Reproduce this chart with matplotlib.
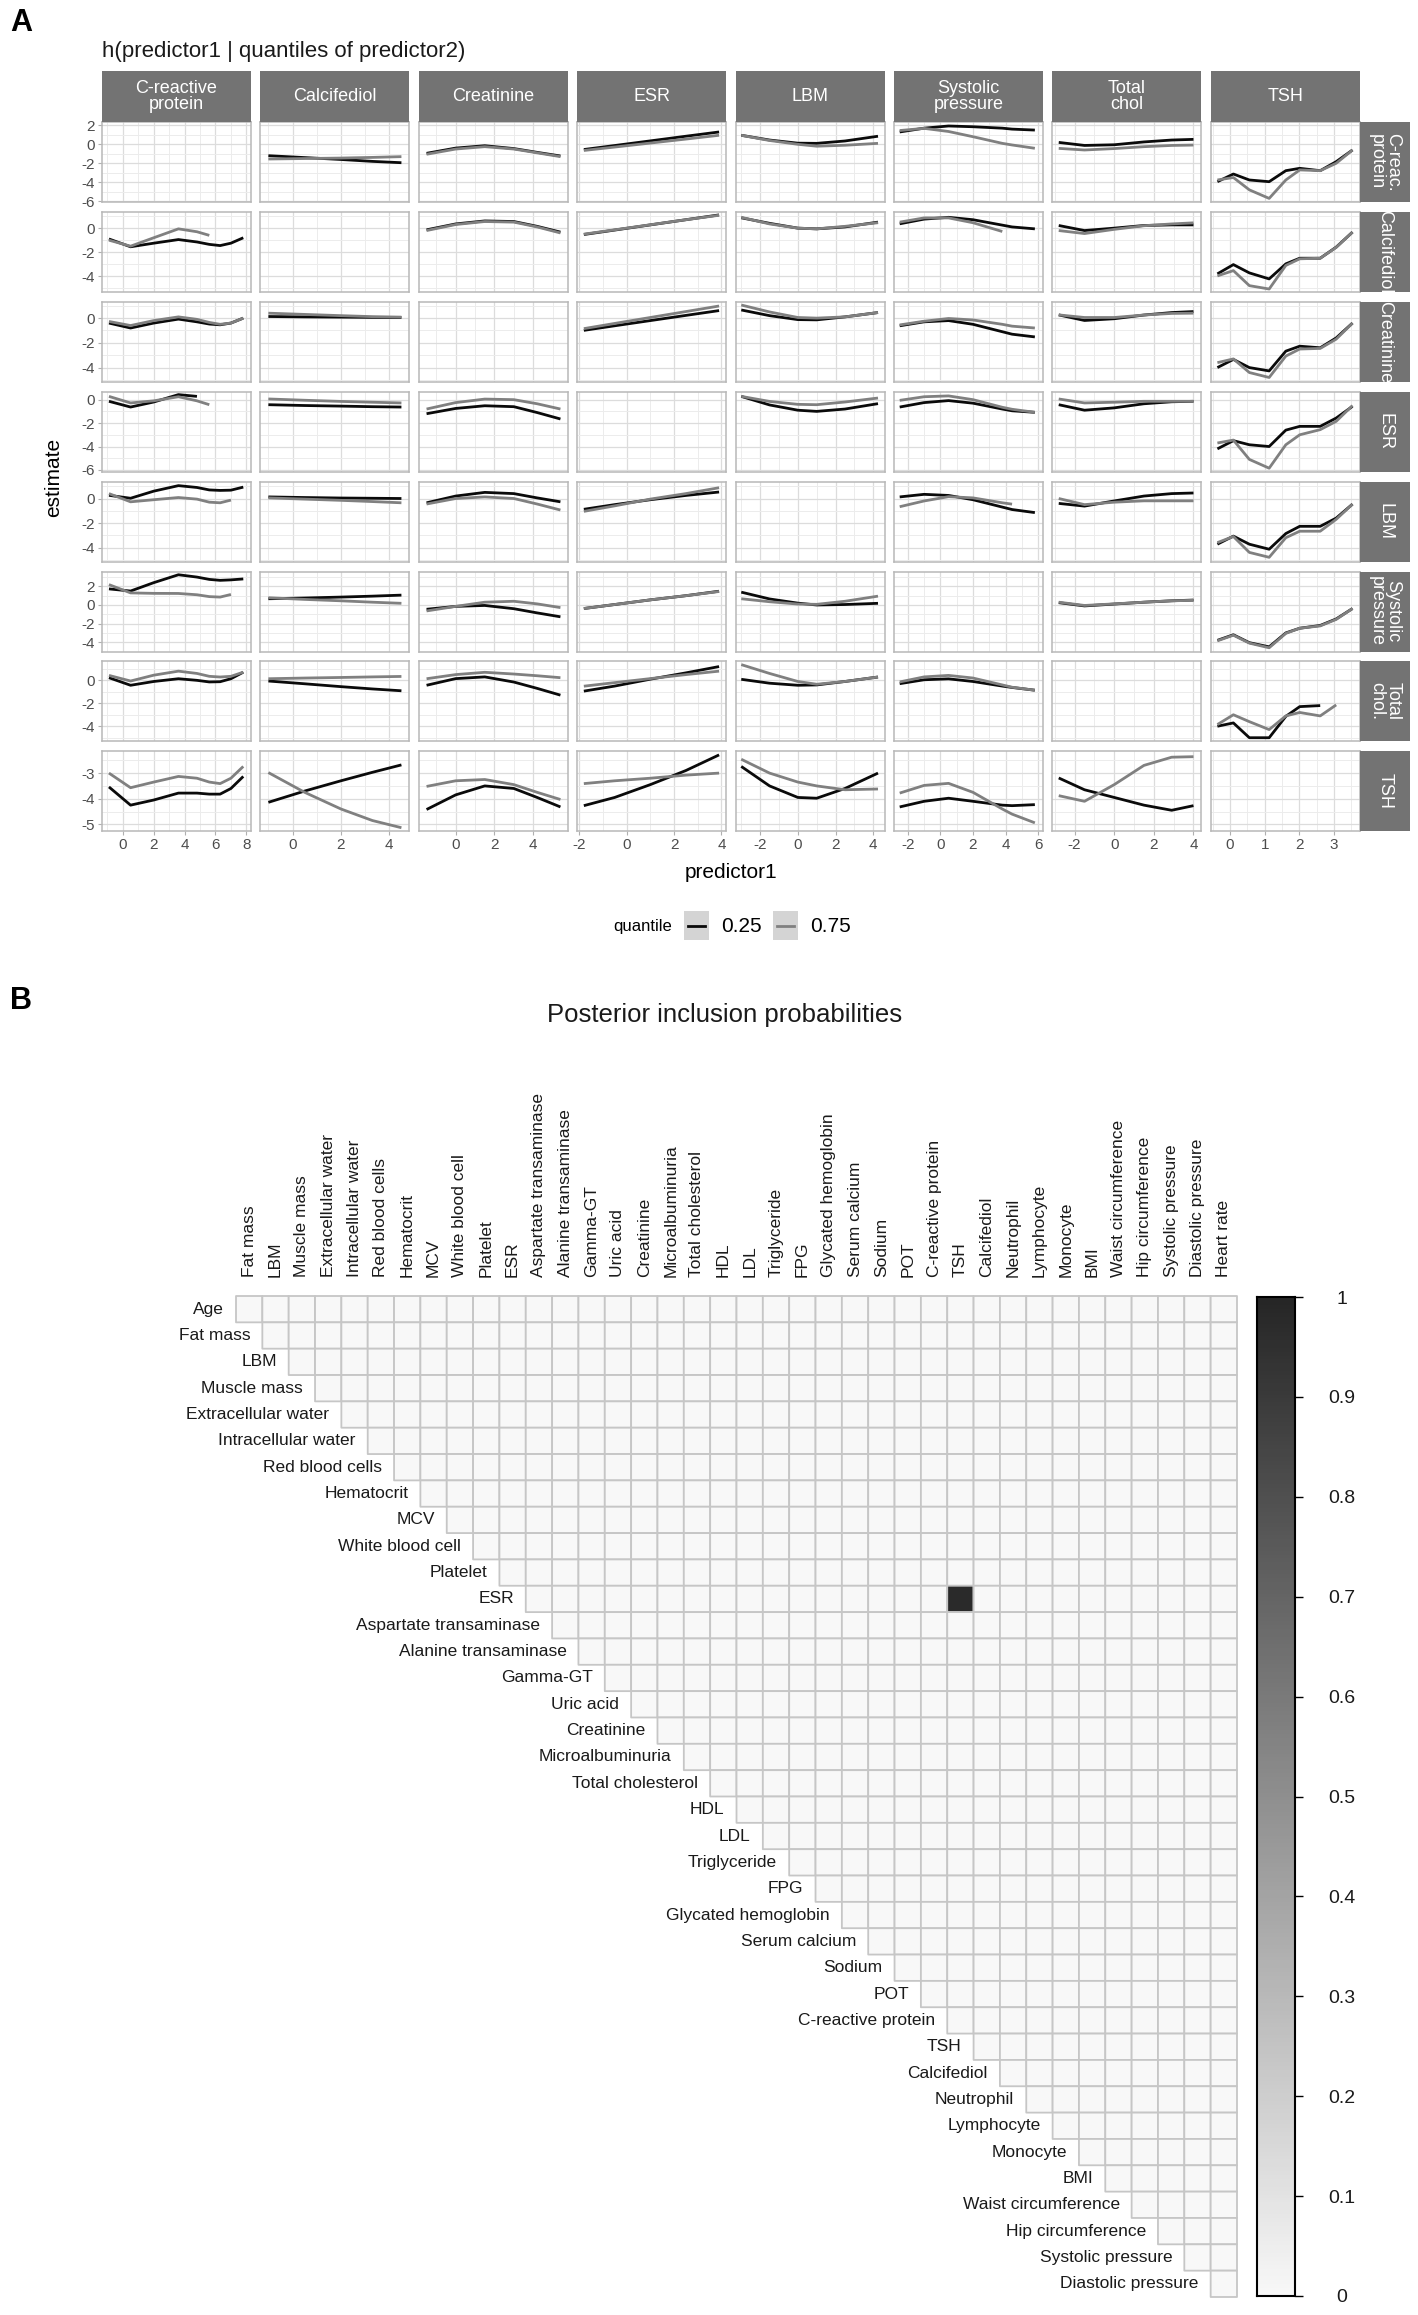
import numpy as np
import matplotlib
matplotlib.use("Agg")
import matplotlib.pyplot as plt
from matplotlib.colors import LinearSegmentedColormap
from matplotlib.patches import Rectangle
from matplotlib.lines import Line2D

nan = float("nan")

# ------------------------------------------------------------------
# Panel A data: h(predictor1 | quantiles of predictor2)
# ------------------------------------------------------------------
col_strip_labels = ["C-reactive\nprotein", "Calcifediol", "Creatinine", "ESR", "LBM",
                    "Systolic\npressure", "Total\nchol", "TSH"]
row_strip_labels = ["C-reac.\nprotein", "Calcifediol", "Creatinine", "ESR", "LBM",
                    "Systolic\npressure", "Total\nchol.", "TSH"]
quantiles = ["0.25", "0.75"]

# predictor1 grids (one per column)
x_crp = [-0.9, 0.5, 2.0, 3.6, 4.8, 5.6, 6.3, 7.0, 7.8]
x_calcifediol = [-1.0, 0.5, 2.0, 3.3, 4.5]
x_creatinine = [-1.5, 0.0, 1.5, 3.0, 4.2, 5.4]
x_esr = [-1.8, -0.5, 1.0, 2.5, 3.9]
x_lbm = [-3.0, -1.5, 0.0, 1.0, 2.5, 4.25]
x_systolic = [-2.5, -1.0, 0.5, 2.0, 3.8, 4.4, 5.8]
x_totchol = [-2.8, -1.5, 0.0, 1.5, 2.9, 4.0]
x_tsh = [-0.36, 0.1, 0.56, 1.13, 1.61, 2.01, 2.6, 3.06, 3.53]

# axis ticks per column / row
x_majors = [[0, 2, 4, 6, 8], [0, 2, 4], [0, 2, 4], [-2, 0, 2, 4], [-2, 0, 2, 4],
            [-2, 0, 2, 4, 6], [-2, 0, 2, 4], [0, 1, 2, 3]]
y_majors = [[-6, -4, -2, 0, 2], [-4, -2, 0], [-4, -2, 0], [-6, -4, -2, 0], [-4, -2, 0],
            [-4, -2, 0, 2], [-4, -2, 0], [-5, -4, -3]]

# rows = predictor2 (C-reactive protein row first); columns in same order
crp_q25 = [None,
           [-1.2, -1.4, -1.6, -1.8, -1.94],
           [-0.95, -0.4, -0.15, -0.45, -0.85, -1.23],
           [-0.55, -0.13, 0.36, 0.85, 1.3],
           [0.95, 0.45, 0.12, 0.1, 0.35, 0.85],
           [1.3, 1.7, 1.93, 1.85, 1.7, 1.6, 1.5],
           [0.2, -0.12, -0.05, 0.25, 0.45, 0.52],
           [-3.94, -3.13, -3.76, -3.94, -2.78, -2.53, -2.78, -1.83, -0.6]]
crp_q75 = [None,
           [-1.55, -1.5, -1.45, -1.38, -1.3],
           [-1.05, -0.5, -0.25, -0.5, -0.9, -1.3],
           [-0.65, -0.29, 0.13, 0.55, 0.95],
           [0.95, 0.4, 0.0, -0.2, -0.1, 0.1],
           [1.45, 1.68, 1.35, 0.8, 0.1, -0.07, -0.42],
           [-0.43, -0.6, -0.45, -0.25, -0.12, -0.08],
           [-3.76, -3.5, -4.8, -5.7, -3.76, -2.7, -2.78, -2.0, -0.6]]

calc_q25 = [[-0.9, -1.55, -1.25, -0.95, -1.15, -1.35, -1.45, -1.25, -0.8],
            None,
            [-0.14, 0.35, 0.6, 0.55, 0.15, -0.33],
            [-0.53, -0.16, 0.27, 0.7, 1.1],
            [0.86, 0.4, 0.0, -0.06, 0.1, 0.5],
            [0.36, 0.75, 0.9, 0.7, 0.25, 0.1, -0.06],
            [0.22, -0.2, 0.0, 0.22, 0.27, 0.27],
            [-3.8, -3.03, -3.72, -4.22, -2.97, -2.5, -2.5, -1.58, -0.33]]
calc_q75 = [[-1.0, -1.5, -0.8, -0.06, -0.3, -0.6, nan, nan, nan],
            None,
            [-0.2, 0.3, 0.55, 0.5, 0.1, -0.4],
            [-0.5, -0.14, 0.28, 0.7, 1.07],
            [0.9, 0.35, 0.0, -0.06, 0.15, 0.45],
            [0.5, 0.85, 0.85, 0.45, -0.28, nan, nan],
            [-0.2, -0.45, -0.1, 0.2, 0.35, 0.44],
            [-3.97, -3.53, -4.78, -5.06, -3.1, -2.55, -2.5, -1.6, -0.33]]

creat_q25 = [[-0.4, -0.8, -0.4, -0.08, -0.3, -0.48, -0.54, -0.4, 0.0],
             [0.13, 0.1, 0.08, 0.06, 0.05],
             None,
             [-0.99, -0.62, -0.2, 0.22, 0.61],
             [0.66, 0.2, -0.12, -0.14, 0.1, 0.45],
             [-0.62, -0.3, -0.2, -0.5, -1.1, -1.3, -1.52],
             [0.26, -0.19, -0.05, 0.25, 0.45, 0.53],
             [-4.0, -3.34, -4.0, -4.27, -2.67, -2.27, -2.4, -1.6, -0.4]]
creat_q75 = [[-0.27, -0.6, -0.2, 0.1, -0.1, -0.35, -0.5, -0.4, 0.0],
             [0.4, 0.3, 0.2, 0.12, 0.08],
             None,
             [-0.85, -0.43, 0.05, 0.53, 0.98],
             [1.06, 0.5, 0.05, 0.0, 0.1, 0.45],
             [-0.55, -0.25, -0.03, -0.15, -0.5, -0.65, -0.8],
             [0.26, 0.05, 0.05, 0.25, 0.38, 0.4],
             [-3.6, -3.3, -4.4, -4.8, -3.07, -2.5, -2.45, -1.7, -0.4]]

esr_q25 = [[-0.14, -0.63, -0.2, 0.43, 0.28, nan, nan, nan, nan],
           [-0.43, -0.5, -0.55, -0.6, -0.63],
           [-1.2, -0.75, -0.52, -0.6, -1.1, -1.65],
           None,
           [0.28, -0.45, -0.9, -1.0, -0.8, -0.34],
           [-0.63, -0.25, -0.08, -0.3, -0.8, -0.95, -1.08],
           [-0.43, -0.9, -0.7, -0.35, -0.18, -0.14],
           [-4.2, -3.5, -3.85, -4.0, -2.6, -2.28, -2.28, -1.57, -0.57]]
esr_q75 = [[0.28, -0.28, -0.1, 0.25, -0.1, -0.43, nan, nan, nan],
           [0.06, -0.05, -0.15, -0.22, -0.28],
           [-0.8, -0.25, 0.05, 0.0, -0.35, -0.8],
           None,
           [0.28, -0.15, -0.4, -0.43, -0.2, 0.14],
           [-0.06, 0.25, 0.32, 0.0, -0.65, -0.82, -1.08],
           [0.06, -0.28, -0.22, -0.14, -0.14, -0.14],
           [-3.7, -3.45, -5.1, -5.85, -3.85, -3.0, -2.56, -1.85, -0.5]]

lbm_q25 = [[0.26, 0.02, 0.6, 1.05, 0.9, 0.7, 0.66, 0.68, 0.93],
           [0.13, 0.08, 0.04, 0.02, 0.0],
           [-0.35, 0.2, 0.5, 0.4, 0.05, -0.27],
           [-0.88, -0.5, -0.1, 0.25, 0.53],
           None,
           [0.13, 0.34, 0.25, -0.1, -0.7, -0.9, -1.15],
           [-0.4, -0.62, -0.2, 0.2, 0.4, 0.45],
           [-3.73, -3.07, -3.73, -4.14, -2.86, -2.27, -2.27, -1.6, -0.46]]
lbm_q75 = [[0.4, -0.27, -0.1, 0.08, -0.05, -0.3, -0.35, -0.13, nan],
           [0.05, -0.05, -0.15, -0.25, -0.35],
           [-0.45, 0.0, 0.13, 0.0, -0.45, -0.94],
           [-1.05, -0.6, -0.05, 0.4, 0.88],
           None,
           [-0.67, -0.2, 0.15, 0.05, -0.35, -0.46, nan],
           [0.0, -0.5, -0.3, -0.19, -0.19, -0.19],
           [-3.6, -3.1, -4.4, -4.8, -3.2, -2.67, -2.67, -1.7, -0.46]]

sys_q25 = [[1.73, 1.5, 2.4, 3.25, 3.0, 2.75, 2.65, 2.7, 2.8],
           [0.67, 0.75, 0.85, 0.95, 1.06],
           [-0.46, -0.15, -0.05, -0.4, -0.85, -1.27],
           [-0.38, 0.05, 0.55, 1.0, 1.48],
           [1.38, 0.65, 0.2, 0.0, 0.05, 0.18],
           None,
           [0.25, -0.1, 0.1, 0.3, 0.45, 0.53],
           [-3.8, -3.2, -4.05, -4.5, -3.0, -2.5, -2.2, -1.5, -0.38]]
sys_q75 = [[2.19, 1.3, 1.25, 1.24, 1.1, 0.9, 0.85, 1.13, nan],
           [0.78, 0.6, 0.45, 0.3, 0.18],
           [-0.64, -0.15, 0.3, 0.4, 0.12, -0.28],
           [-0.38, 0.05, 0.55, 1.0, 1.45],
           [0.67, 0.35, 0.1, 0.07, 0.4, 0.95],
           None,
           [0.3, -0.05, 0.12, 0.3, 0.45, 0.5],
           [-3.85, -3.25, -4.1, -4.6, -3.05, -2.5, -2.25, -1.55, -0.38]]

tc_q25 = [[0.23, -0.43, -0.1, 0.14, 0.0, -0.14, -0.12, 0.14, 0.71],
          [-0.06, -0.3, -0.55, -0.75, -0.91],
          [-0.43, 0.15, 0.3, -0.15, -0.7, -1.29],
          [-0.94, -0.5, 0.1, 0.65, 1.2],
          [0.09, -0.25, -0.43, -0.4, -0.1, 0.29],
          [-0.29, 0.05, 0.13, -0.1, -0.5, -0.62, -0.86],
          None,
          [-4.0, -3.71, -5.0, -5.0, -3.14, -2.29, -2.2, nan, nan]]
tc_q75 = [[0.43, -0.06, 0.45, 0.8, 0.6, 0.35, 0.29, 0.35, 0.71],
          [0.14, 0.2, 0.25, 0.3, 0.34],
          [0.14, 0.5, 0.7, 0.55, 0.4, 0.23],
          [-0.51, -0.2, 0.15, 0.5, 0.8],
          [1.37, 0.6, -0.1, -0.34, -0.1, 0.29],
          [-0.14, 0.3, 0.43, 0.2, -0.4, -0.6, -0.86],
          None,
          [-3.85, -3.0, -3.6, -4.29, -3.1, -2.8, -3.1, -2.14, nan]]

tsh_q25 = [[-3.54, -4.25, -4.05, -3.78, -3.78, -3.82, -3.82, -3.6, -3.13],
           [-4.14, -3.7, -3.3, -2.97, -2.68],
           [-4.42, -3.85, -3.5, -3.6, -3.95, -4.32],
           [-4.27, -3.95, -3.45, -2.9, -2.29],
           [-2.74, -3.5, -3.95, -3.98, -3.6, -3.0],
           [-4.32, -4.1, -3.98, -4.1, -4.25, -4.27, -4.23],
           [-3.19, -3.65, -3.95, -4.25, -4.45, -4.27],
           None]
tsh_q75 = [[-3.0, -3.57, -3.35, -3.13, -3.2, -3.35, -3.41, -3.2, -2.74],
           [-2.98, -3.75, -4.4, -4.85, -5.13],
           [-3.52, -3.3, -3.25, -3.45, -3.75, -4.03],
           [-3.41, -3.3, -3.2, -3.08, -3.0],
           [-2.46, -3.0, -3.35, -3.5, -3.65, -3.62],
           [-3.78, -3.48, -3.4, -3.75, -4.4, -4.6, -4.94],
           [-3.88, -4.1, -3.45, -2.7, -2.38, -2.36],
           None]

# ------------------------------------------------------------------
# Panel B data: posterior inclusion probabilities
# ------------------------------------------------------------------
pip_row_labels = ["Age", "Fat mass", "LBM", "Muscle mass", "Extracellular water",
                  "Intracellular water", "Red blood cells", "Hematocrit", "MCV",
                  "White blood cell", "Platelet", "ESR", "Aspartate transaminase",
                  "Alanine transaminase", "Gamma-GT", "Uric acid", "Creatinine",
                  "Microalbuminuria", "Total cholesterol", "HDL", "LDL", "Triglyceride",
                  "FPG", "Glycated hemoglobin", "Serum calcium", "Sodium", "POT",
                  "C-reactive protein", "TSH", "Calcifediol", "Neutrophil", "Lymphocyte",
                  "Monocyte", "BMI", "Waist circumference", "Hip circumference",
                  "Systolic pressure", "Diastolic pressure"]
pip_col_labels = ["Fat mass", "LBM", "Muscle mass", "Extracellular water",
                  "Intracellular water", "Red blood cells", "Hematocrit", "MCV",
                  "White blood cell", "Platelet", "ESR", "Aspartate transaminase",
                  "Alanine transaminase", "Gamma-GT", "Uric acid", "Creatinine",
                  "Microalbuminuria", "Total cholesterol", "HDL", "LDL", "Triglyceride",
                  "FPG", "Glycated hemoglobin", "Serum calcium", "Sodium", "POT",
                  "C-reactive protein", "TSH", "Calcifediol", "Neutrophil", "Lymphocyte",
                  "Monocyte", "BMI", "Waist circumference", "Hip circumference",
                  "Systolic pressure", "Diastolic pressure", "Heart rate"]
pip_background = 0.0
pip_pair_row = ["ESR"]
pip_pair_col = ["TSH"]
pip_pair_value = [0.98]
cbar_ticks = [0, 0.1, 0.2, 0.3, 0.4, 0.5, 0.6, 0.7, 0.8, 0.9, 1]
cbar_labels = ["0", "0.1", "0.2", "0.3", "0.4", "0.5", "0.6", "0.7", "0.8", "0.9", "1"]

# ------------------------------------------------------------------
plt.rcParams["font.family"] = ["Liberation Sans", "DejaVu Sans"]
plt.rcParams["axes.unicode_minus"] = False

W, H, DPI = 1418, 2315, 100
fig = plt.figure(figsize=(W / DPI, H / DPI), dpi=DPI, facecolor="white")
PT = 72.0 / DPI


def px_axes(x0, y0, w, h):
    return fig.add_axes([x0 / W, 1 - (y0 + h) / H, w / W, h / H])


def fx(x):
    return x / W


def fy(y):
    return 1 - y / H


def minor_ticks(majors, lim):
    step = majors[1] - majors[0]
    m = np.arange(majors[0] - step / 2.0, majors[-1] + step, step)
    return [v for v in m if lim[0] <= v <= lim[1]]


x_grids = [x_crp, x_calcifediol, x_creatinine, x_esr, x_lbm, x_systolic, x_totchol, x_tsh]
row_q25 = [crp_q25, calc_q25, creat_q25, esr_q25, lbm_q25, sys_q25, tc_q25, tsh_q25]
row_q75 = [crp_q75, calc_q75, creat_q75, esr_q75, lbm_q75, sys_q75, tc_q75, tsh_q75]

x_limits = [(-1.35, 8.3), (-1.33, 4.83), (-1.9, 5.78), (-2.08, 4.2), (-3.3, 4.6),
            (-2.85, 6.3), (-3.12, 4.4), (-0.55, 3.74)]
y_limits = [(-6.08, 2.35), (-5.3, 1.35), (-5.15, 1.32), (-6.15, 0.68), (-5.15, 1.38),
            (-5.0, 3.6), (-5.32, 1.65), (-5.27, -2.15)]

c25, c75 = "#0a0a0a", "#808080"
strip_color = "#737373"

X0, DX, PW = 102, 158.4, 149
Y0, DY, PH = 122, 89.9, 80
n = 8

for i in range(n):
    for j in range(n):
        ax = px_axes(X0 + j * DX, Y0 + i * DY, PW, PH)
        ax.set_xlim(x_limits[j])
        ax.set_ylim(y_limits[i])
        ax.set_xticks(x_majors[j])
        ax.set_xticklabels([str(v) for v in x_majors[j]])
        ax.set_xticks(minor_ticks(x_majors[j], x_limits[j]), minor=True)
        ax.set_yticks(y_majors[i])
        ax.set_yticklabels([str(v) for v in y_majors[i]])
        ax.set_yticks(minor_ticks(y_majors[i], y_limits[i]), minor=True)
        ax.grid(which="major", color="#dcdcdc", lw=0.9)
        ax.grid(which="minor", color="#ececec", lw=0.7)
        ax.set_axisbelow(True)
        for s in ax.spines.values():
            s.set_color("#b8b8b8")
            s.set_linewidth(1.1)
        ax.tick_params(which="minor", length=0)
        ax.tick_params(which="major", length=4 * PT, width=0.8, color="#b0b0b0",
                       labelsize=11, labelcolor="#4d4d4d", pad=3 * PT)
        if j > 0:
            ax.tick_params(axis="y", length=0, labelleft=False)
        if i < n - 1:
            ax.tick_params(axis="x", length=0, labelbottom=False)
        if i != j:
            ax.plot(x_grids[j], row_q25[i][j], color=c25, lw=2.0,
                    solid_joinstyle="round", solid_capstyle="butt")
            ax.plot(x_grids[j], row_q75[i][j], color=c75, lw=2.0,
                    solid_joinstyle="round", solid_capstyle="butt")

# top strips
for j in range(n):
    s = px_axes(X0 + j * DX, 71, PW, 51)
    s.set_facecolor(strip_color)
    s.set_xticks([])
    s.set_yticks([])
    for sp in s.spines.values():
        sp.set_visible(False)
    s.text(0.5, 0.5, col_strip_labels[j], ha="center", va="center", color="white",
           fontsize=13, linespacing=0.95, transform=s.transAxes)

# right strips
for i in range(n):
    s = px_axes(X0 + 7 * DX + PW, Y0 + i * DY, 50, PH)
    s.set_facecolor(strip_color)
    s.set_xticks([])
    s.set_yticks([])
    for sp in s.spines.values():
        sp.set_visible(False)
    s.text(0.5, 0.5, row_strip_labels[i], ha="center", va="center", color="white",
           fontsize=13, linespacing=0.95, rotation=270, transform=s.transAxes,
           clip_on=True)

fig.text(fx(10), fy(23), "A", fontsize=22, fontweight="bold", ha="left", va="center")
fig.text(fx(102), fy(52), "h(predictor1 | quantiles of predictor2)", fontsize=16,
         ha="left", va="center", color="#1a1a1a")
fig.text(fx(54), fy(477), "estimate", fontsize=15, rotation=90, ha="center", va="center")
fig.text(fx(731), fy(872), "predictor1", fontsize=15, ha="center", va="center")

# legend
fig.text(fx(613), fy(926), "quantile", fontsize=12, ha="left", va="center")
for k, (qlab, col) in enumerate(zip(quantiles, [c25, c75])):
    kx = [684, 773][k]
    fig.add_artist(Rectangle((fx(kx), fy(940)), 25 / W, 29 / H, transform=fig.transFigure,
                             facecolor="#d4d4d4", edgecolor="none"))
    fig.add_artist(Line2D([fx(kx + 4), fx(kx + 21)], [fy(925.5), fy(925.5)],
                          transform=fig.transFigure, color=col, lw=2.0))
    fig.text(fx(kx + 37), fy(926), qlab, fontsize=15, ha="left", va="center")

# ------------------------------------------------------------------
# Panel B
# ------------------------------------------------------------------
fig.text(fx(10), fy(1001), "B", fontsize=22, fontweight="bold", ha="left", va="center")
fig.text(fx(725), fy(1015), "Posterior inclusion probabilities", fontsize=18.5,
         ha="center", va="center", color="#1a1a1a")

nr, nc = len(pip_row_labels), len(pip_col_labels)
M = np.full((nr, nc), pip_background)
for rl, cl, v in zip(pip_pair_row, pip_pair_col, pip_pair_value):
    M[pip_row_labels.index(rl), pip_col_labels.index(cl)] = v
mask = np.tril(np.ones((nr, nc), dtype=bool), k=-1)
Mm = np.ma.masked_array(M, mask=mask)

cmap = LinearSegmentedColormap.from_list("pip", ["#f8f8f8", "#262626"])

HX0, HY0, HX1, HY1 = 236, 1296, 1237, 2297
hax = px_axes(HX0, HY0, HX1 - HX0, HY1 - HY0)
mesh = hax.pcolor(np.arange(nc + 1), np.arange(nr + 1), Mm, cmap=cmap, vmin=0, vmax=1,
                  edgecolors="#c6c6c6", linewidth=1.3)
mesh.set_clip_on(False)
hax.set_xlim(0, nc)
hax.set_ylim(nr, 0)
hax.axis("off")

cell_w = (HX1 - HX0) / nc
for r, lab in enumerate(pip_row_labels):
    hax.text(r - 12.0 / cell_w, r + 0.5, lab, ha="right", va="center", fontsize=12.5,
             color="#1a1a1a")
for c, lab in enumerate(pip_col_labels):
    hax.text(c + 0.5, -19.0 / cell_w, lab, ha="center", va="bottom", rotation=90,
             fontsize=12.5, color="#1a1a1a")

# colour bar
cax = px_axes(1257, 1297, 38, 999)
grad = np.linspace(0, 1, 256).reshape(-1, 1)
cax.imshow(grad, cmap=cmap, aspect="auto", origin="lower", extent=(0, 1, 0, 1),
           vmin=0, vmax=1)
cax.set_xticks([])
cax.yaxis.tick_right()
cax.set_ylim(0, 1)
cax.set_yticks(cbar_ticks)
cax.set_yticklabels(cbar_labels)
cax.tick_params(axis="y", length=8 * PT, width=1.0, color="black", pad=39 * PT,
                labelsize=14, labelcolor="#1a1a1a")
for lbl in cax.get_yticklabels():
    lbl.set_horizontalalignment("center")
for sp in cax.spines.values():
    sp.set_color("black")
    sp.set_linewidth(1.5)

fig.savefig("out.png", dpi=DPI, facecolor="white")
